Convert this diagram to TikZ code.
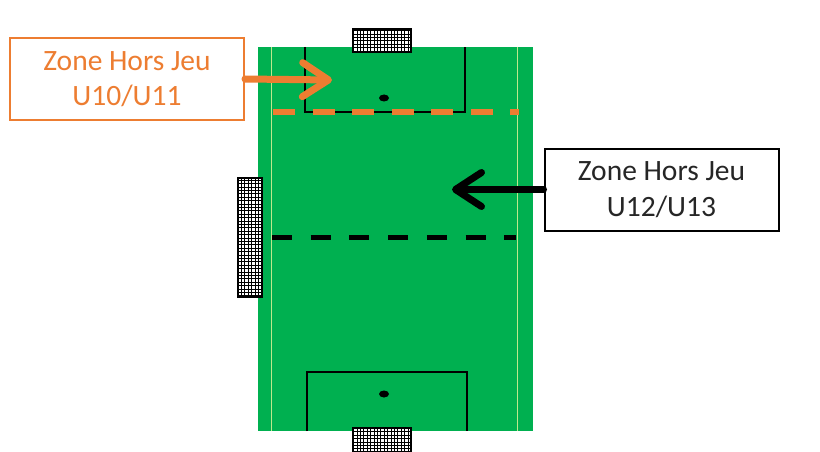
\documentclass[tikz,border=0pt]{standalone}
\usepackage{fontspec}
\setmainfont{Carlito}
\usetikzlibrary{arrows.meta}
\definecolor{pitchgreen}{RGB}{0,176,80}
\definecolor{zoneorange}{RGB}{237,125,49}
\definecolor{chalk}{RGB}{190,232,140}
\def\goalnet(#1)(#2){\fill[white] (#1) rectangle (#2); \draw[line width=0.9pt, step=3.4pt] (#1) grid (#2); \draw[line width=1.2pt] (#1) rectangle (#2);}
\tikzset{
  zonebox/.style={draw, line width=2pt, minimum width=234pt, minimum height=82pt, align=center, inner sep=0pt, font=\fontsize{29.5}{35.5}\selectfont},
  zonearrow/.style={line width=7pt, line cap=round, -{Straight Barb[length=26pt, width=34pt, line width=7pt, round]}},
  boxline/.style={line width=1.3pt},
}

\begin{document}
\begin{tikzpicture}[x=1pt, y=-1pt]
			%%%%% START %%%%%
			\useasboundingbox[fill=white] (0, 0) rectangle (820, 452);
			
			\fill[pitchgreen] (258, 47) rectangle (533, 431);
			\draw[chalk, line width=1pt] (271, 47) -- (271, 431);
			\draw[chalk, line width=1pt] (517, 47) -- (517, 431);
			
			\draw[boxline] (305, 47) -- (305, 112) -- (465, 112) -- (465, 47);
			\fill[black] (384, 98) ellipse (5 and 3.5);
			
			\draw[boxline] (307, 431) -- (307, 372) -- (467, 372) -- (467, 431);
			\fill[black] (384, 394) ellipse (5 and 3.5);
			
			\goalnet(353, 29)(411, 52)
			\goalnet(238, 178)(262, 297)
			\goalnet(353, 428)(411, 452)
			
			\draw[zoneorange, line width=5.5pt, dash pattern=on 22pt off 17.5pt] (273, 112) -- (519, 112);
			\draw[black, line width=5pt, dash pattern=on 20pt off 18.7pt] (272, 237) -- (516, 237);
			
			\node[zonebox, draw=zoneorange, text=zoneorange] (u10) at (127, 79) {Zone Hors Jeu\\U10/U11};
			\node[zonebox, draw=black, text=black!85] (u12) at (661.5, 189.5) {Zone Hors Jeu\\U12/U13};
			
			\coordinate (u10tip) at (332, 80);
			\coordinate (u12tip) at (452, 189.5);
			\draw[zonearrow, zoneorange] (u10.east) -- (u10tip);
			\draw[zonearrow, black] (u12.west) -- (u12tip);
			
			%%%%% END %%%%%
		\end{tikzpicture}
\end{document}
